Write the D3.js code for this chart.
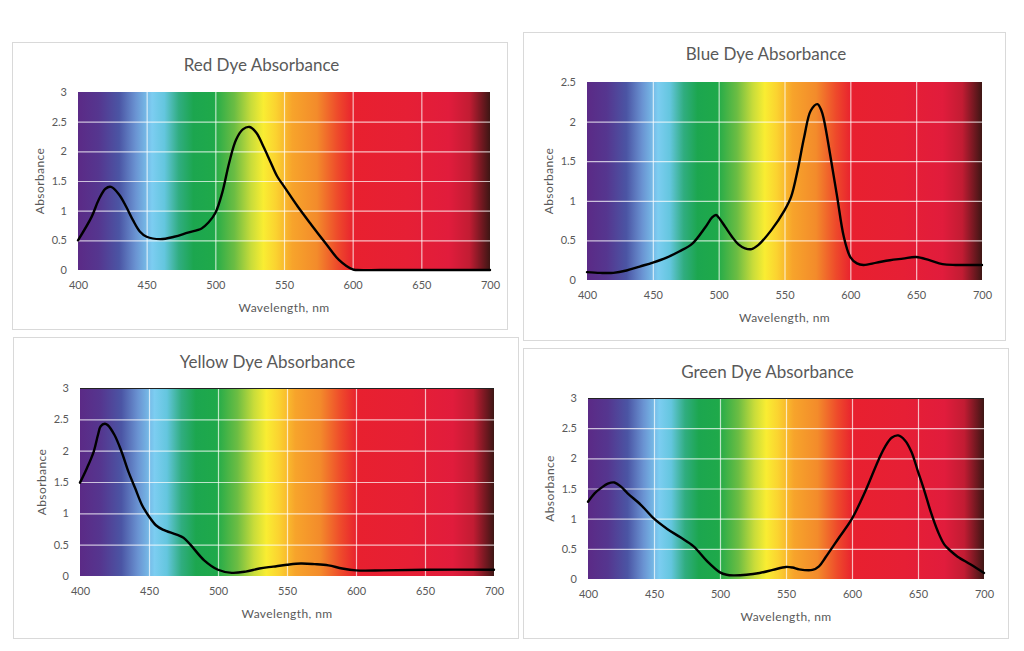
<!DOCTYPE html>
<html><head><meta charset="utf-8">
<script src="https://cdn.jsdelivr.net/npm/d3@7"></script>
<style>
body{margin:0;background:#fff;}
svg{display:block;font-family:Lato,'Open Sans',sans-serif;}
</style>
</head><body>
<svg id="c" width="1024" height="651"></svg>
<script>
// ---- data ----
const xTicks = [400, 450, 500, 550, 600, 650, 700];
const yTicks3 = [0, 0.5, 1, 1.5, 2, 2.5, 3];
const yTicks25 = [0, 0.5, 1, 1.5, 2, 2.5];
const chartTitles = ["Red Dye Absorbance", "Blue Dye Absorbance", "Yellow Dye Absorbance", "Green Dye Absorbance"];
const xAxisTitle = "Wavelength, nm";
const yAxisTitle = "Absorbance";

const redWl  = [400,410,415,420,424,430,435,440,445,450,460,470,480,490,495,500,505,510,515,520,525,530,535,540,545,550,560,570,580,590,600,603,620,650,700];
const redAbs = [0.5,0.9,1.18,1.37,1.4,1.27,1.07,0.84,0.65,0.56,0.52,0.56,0.63,0.7,0.8,0.96,1.3,1.8,2.19,2.37,2.41,2.31,2.08,1.83,1.58,1.41,1.07,0.76,0.46,0.17,0.01,0,0,0,0];

const blueWl  = [400,410,420,430,440,450,460,470,480,490,495,498,500,505,510,515,520,525,530,540,550,555,560,565,570,575,578,580,585,590,595,600,605,610,620,630,640,650,660,670,680,690,700];
const blueAbs = [0.1,0.09,0.09,0.12,0.17,0.22,0.28,0.36,0.46,0.67,0.79,0.82,0.79,0.67,0.55,0.45,0.4,0.39,0.44,0.63,0.88,1.05,1.39,1.81,2.14,2.22,2.14,2.02,1.55,1.05,0.55,0.29,0.21,0.19,0.22,0.25,0.27,0.29,0.25,0.2,0.19,0.19,0.19];

const yellowWl  = [400,405,410,413,415,418,420,425,430,435,440,445,450,455,460,470,475,480,490,500,510,520,530,540,550,560,570,580,590,600,620,650,700];
const yellowAbs = [1.49,1.72,1.99,2.25,2.39,2.43,2.41,2.25,1.99,1.67,1.4,1.13,0.95,0.81,0.74,0.66,0.61,0.5,0.25,0.1,0.05,0.07,0.12,0.15,0.18,0.2,0.19,0.17,0.12,0.09,0.09,0.1,0.1];

const greenWl  = [400,405,410,415,420,425,430,440,450,460,470,480,490,500,505,510,520,530,540,550,555,560,570,575,580,590,600,610,620,625,630,635,640,645,650,655,660,665,670,675,680,690,700];
const greenAbs = [1.28,1.42,1.51,1.58,1.6,1.53,1.42,1.23,1.0,0.83,0.69,0.54,0.3,0.11,0.07,0.06,0.07,0.1,0.15,0.2,0.19,0.16,0.15,0.21,0.36,0.68,1.0,1.45,1.97,2.19,2.34,2.38,2.3,2.11,1.78,1.45,1.09,0.79,0.57,0.46,0.37,0.24,0.1];

// ---- layout ----
const panels = [
  {title: chartTitles[0], wl: redWl, abs: redAbs, yMax: 3, yTicks: yTicks3,
   box: [12, 42, 495, 287], plot: [78, 92, 490, 270], titleY: 64, topLine: false},
  {title: chartTitles[1], wl: blueWl, abs: blueAbs, yMax: 2.5, yTicks: yTicks25,
   box: [523, 32, 482, 308], plot: [587, 82, 982, 280], titleY: 53, topLine: false},
  {title: chartTitles[2], wl: yellowWl, abs: yellowAbs, yMax: 3, yTicks: yTicks3,
   box: [13, 337, 505, 301], plot: [80, 388, 494, 576], titleY: 361, topLine: true},
  {title: chartTitles[3], wl: greenWl, abs: greenAbs, yMax: 3, yTicks: yTicks3,
   box: [523, 348, 485, 290], plot: [588, 398, 984, 579], titleY: 371, topLine: true}
];

const spectrumStops = [
  [0, "#5b2a86"], [0.05, "#55368f"], [0.1, "#4b55a4"], [0.14, "#6a93d2"], [0.18, "#7ccdf1"],
  [0.21, "#64c6de"], [0.245, "#30ad80"], [0.28, "#1ca64f"], [0.33, "#1fa94a"], [0.34, "#2fae48"],
  [0.38, "#6cbd43"], [0.42, "#c8dc3a"], [0.45, "#f9ed32"], [0.48, "#fbd330"], [0.52, "#f7a42b"],
  [0.58, "#f38b2b"], [0.63, "#ee4a2b"], [0.67, "#e8202f"], [0.8, "#e61f35"], [0.9, "#e11c3c"],
  [0.95, "#c21c33"], [1, "#3d1614"]
];

const svg = d3.select("#c");
const grad = svg.append("defs").append("linearGradient").attr("id", "spec")
  .attr("x1", "0").attr("x2", "1").attr("y1", "0").attr("y2", "0");
spectrumStops.forEach(s => grad.append("stop").attr("offset", s[0]).attr("stop-color", s[1]));

const textColor = "#595959";

panels.forEach(p => {
  const [bx, by, bw, bh] = p.box;
  const [l, t, r, b] = p.plot;
  const g = svg.append("g");
  g.append("rect").attr("x", bx + 0.5).attr("y", by + 0.5).attr("width", bw).attr("height", bh)
    .attr("fill", "#fff").attr("stroke", "#d9d9d9");

  const x = d3.scaleLinear().domain([400, 700]).range([l, r]);
  const y = d3.scaleLinear().domain([0, p.yMax]).range([b, t]);

  g.append("rect").attr("x", l).attr("y", t).attr("width", r - l).attr("height", b - t)
    .attr("fill", "url(#spec)");

  // gridlines
  const gx = g.append("g").attr("transform", `translate(0,${b})`)
    .call(d3.axisBottom(x).tickValues(xTicks.slice(1, -1)).tickSize(-(b - t)).tickFormat(""));
  gx.select(".domain").remove();
  gx.selectAll("line").attr("stroke", "#ffffff").attr("stroke-opacity", 0.7).attr("stroke-width", 1.2);
  const gy = g.append("g").attr("transform", `translate(${l},0)`)
    .call(d3.axisLeft(y).tickValues(p.yTicks.slice(1, -1)).tickSize(-(r - l)).tickFormat(""));
  gy.select(".domain").remove();
  gy.selectAll("line").attr("stroke", "#ffffff").attr("stroke-opacity", 0.7).attr("stroke-width", 1.2);

  if (p.topLine) {
    g.append("line").attr("x1", l).attr("x2", r).attr("y1", t + 0.5).attr("y2", t + 0.5)
      .attr("stroke", "#222").attr("stroke-width", 1.2);
  }

  // tick labels
  const ax = g.append("g").attr("transform", `translate(0,${b})`)
    .call(d3.axisBottom(x).tickValues(xTicks).tickSize(0).tickPadding(11));
  ax.select(".domain").remove();
  ax.selectAll("text").attr("fill", textColor).style("font-size", "11px").style("font-family", "Lato,'Open Sans',sans-serif");
  const ay = g.append("g").attr("transform", `translate(${l},0)`)
    .call(d3.axisLeft(y).tickValues(p.yTicks).tickSize(0).tickPadding(11).tickFormat(d3.format("")));
  ay.select(".domain").remove();
  ay.selectAll("text").attr("fill", textColor).style("font-size", "11px").style("font-family", "Lato,'Open Sans',sans-serif");

  // line
  const pts = p.wl.map((w, i) => [w, p.abs[i]]);
  g.append("path").datum(pts)
    .attr("d", d3.line().x(d => x(d[0])).y(d => y(d[1])).curve(d3.curveCatmullRom.alpha(0.5)))
    .attr("fill", "none").attr("stroke", "#000").attr("stroke-width", 2.4)
    .attr("stroke-linejoin", "round").attr("stroke-linecap", "round");

  // titles
  g.append("text").attr("x", bx + bw / 2 + 2).attr("y", p.titleY).attr("text-anchor", "middle")
    .attr("dominant-baseline", "central").attr("fill", textColor)
    .style("font-size", "17px").text(p.title);
  g.append("text").attr("x", (l + r) / 2).attr("y", b + 37).attr("text-anchor", "middle")
    .attr("dominant-baseline", "central").attr("fill", textColor)
    .style("font-size", "12px").style("letter-spacing", "0.4px").text(xAxisTitle);
  g.append("text").attr("transform", `translate(${l - 39},${(t + b) / 2}) rotate(-90)`)
    .attr("text-anchor", "middle").attr("dominant-baseline", "central").attr("fill", textColor)
    .style("font-size", "12px").style("letter-spacing", "0.4px").text(yAxisTitle);
});
</script>
</body></html>
